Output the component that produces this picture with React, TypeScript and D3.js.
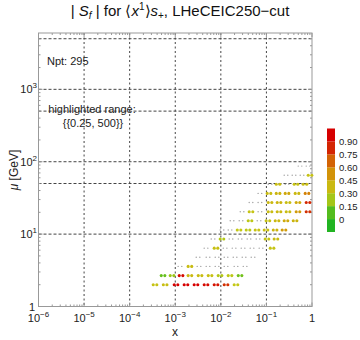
import React from "react";
import * as d3 from "d3";

// mu rows (GeV) of the pseudo-data grid, bottom to top
const rowMu = [2.0, 2.67, 3.58, 4.78, 6.4, 8.55, 11.4, 15.3, 20.4, 27.3, 36.5, 48.8, 65, 87];

// x values of the points in each row
const rowX: number[][] = [
  [3.6e-4, 6.0e-4, 1.04e-3, 1.72e-3, 2.85e-3, 4.73e-3, 7.84e-3, 0.013, 0.0215],
  [5.4e-4, 8.5e-4, 1.34e-3, 2.1e-3, 3.5e-3, 5.8e-3, 9.6e-3, 0.0159, 0.0264],
  [1.27e-3, 2.1e-3, 3.32e-3, 5.23e-3, 8.25e-3, 0.013, 0.0215, 0.034],
  [3.16e-3, 5.23e-3, 8.25e-3, 0.013, 0.0205, 0.0323, 0.0508],
  [4.73e-3, 7.84e-3, 0.0124, 0.0195, 0.0307, 0.0483, 0.0761, 0.133],
  [6.74e-3, 0.0106, 0.0167, 0.0264, 0.0415, 0.0654, 0.103, 0.162],
  [0.0106, 0.0159, 0.0251, 0.0395, 0.0622, 0.098, 0.155, 0.243],
  [0.0176, 0.0277, 0.0437, 0.0688, 0.108, 0.171, 0.269, 0.425],
  [0.0292, 0.0459, 0.072, 0.12, 0.189, 0.298, 0.493, 0.818],
  [0.0459, 0.072, 0.12, 0.189, 0.298, 0.493, 0.818],
  [0.072, 0.114, 0.18, 0.283, 0.469, 0.777],
  [0.12, 0.18, 0.283, 0.446, 0.7],
  [0.269, 0.403, 0.604, 0.905],
  [0.546, 0.818],
];

// |S_f| of each point, null = outside the highlighted range (grey)
const rowS: (number | null)[][] = [
  [0.33, 0.35, 0.92, 0.9, 0.92, 0.88, 0.86, 0.8, 0.3],
  [0.1, 0.2, 0.88, 0.38, 0.36, 0.34, 0.26, 0.28, 0.12],
  [null, 0.36, null, null, null, null, null, null],
  [null, null, null, null, null, null, null],
  [null, 0.34, null, null, null, null, null, 0.32],
  [null, 0.26, null, null, null, null, 0.32, 0.36],
  [null, null, 0.3, 0.28, 0.33, 0.35, 0.4, 0.5],
  [null, null, 0.28, null, 0.33, 0.38, 0.45, 0.4],
  [null, 0.32, null, 0.36, 0.38, 0.36, 0.5, 0.8],
  [null, null, 0.38, 0.4, 0.35, 0.45, 0.82],
  [null, 0.36, 0.4, 0.46, 0.38, 0.58],
  [null, 0.35, null, 0.33, 0.36],
  [null, null, null, 0.33],
  [null, null],
];

const xDecades = [-6, -5, -4, -3, -2, -1, 0];
const yDecades = [0, 1, 2, 3];
const xGrid = [1e-5, 1e-4, 1e-3, 1e-2, 1e-1];
const yGrid = [10, 50, 100, 500, 1000, 5000];
const barTicks = [0, 0.15, 0.3, 0.45, 0.6, 0.75, 0.9];
const barBands = [-0.15, 0, 0.15, 0.3, 0.45, 0.6, 0.75, 0.9];

const FONT = "'Liberation Sans', Arial, sans-serif";

const App: React.FC = () => {
  const left = 38.5, right = 312, top = 33, bottom = 306.5;
  const x = d3.scaleLog().domain([1e-6, 1]).range([left, right]);
  const y = d3.scaleLog().domain([1, 6000]).range([bottom, top]);

  const color = d3
    .scaleLinear<string>()
    .domain([0, 0.15, 0.3, 0.45, 0.6, 0.75, 0.9])
    .range(["#22b422", "#86c41a", "#c4c816", "#cfaa0c", "#d47c06", "#d24a04", "#d60000"])
    .clamp(true);

  const bar = d3.scaleLinear().domain([-0.15, 1.05]).range([232, 128.5]);

  const points = rowMu.flatMap((mu, i) =>
    rowX[i].map((xv, j) => ({ x: xv, mu, s: rowS[i][j] }))
  );

  const xMinor: number[] = [];
  xDecades.slice(0, -1).forEach((k) => {
    for (let m = 2; m <= 9; m++) xMinor.push(m * Math.pow(10, k));
  });
  const yMinor: number[] = [];
  yDecades.forEach((k) => {
    for (let m = 2; m <= 9; m++) {
      const v = m * Math.pow(10, k);
      if (v < 6000) yMinor.push(v);
    }
  });

  const frame = "#999";

  return (
    <svg width={360} height={340} style={{ position: "absolute", left: 0, top: 0 }} fontFamily={FONT}>
      <rect width={360} height={340} fill="#fff" />
      {/* title */}
      <text x={180} y={16} fontSize={15} textAnchor="middle" fill="#111">
        <tspan>| </tspan>
        <tspan fontStyle="italic">S</tspan>
        <tspan fontStyle="italic" fontSize={10} dy={3}>f</tspan>
        <tspan dy={-3}> | for ⟨</tspan>
        <tspan fontStyle="italic">x</tspan>
        <tspan fontSize={10} dy={-6}>1</tspan>
        <tspan dy={6}>⟩</tspan>
        <tspan fontStyle="italic">s</tspan>
        <tspan fontSize={10} dy={3}>+</tspan>
        <tspan dy={-3}>, LHeCEIC250−cut</tspan>
      </text>

      {/* grid */}
      {xGrid.map((g) => (
        <line key={"gx" + g} x1={x(g)} x2={x(g)} y1={top} y2={bottom} stroke="#444" strokeWidth={1} strokeDasharray="2,2.5" />
      ))}
      {yGrid.map((g) => (
        <line key={"gy" + g} x1={left} x2={right} y1={y(g)} y2={y(g)} stroke="#444" strokeWidth={1} strokeDasharray="3,2" />
      ))}

      {/* frame + ticks */}
      <rect x={left} y={top} width={right - left} height={bottom - top} fill="none" stroke={frame} strokeWidth={1} />
      {xDecades.map((k) => {
        const px = x(Math.pow(10, k));
        return (
          <g key={"xt" + k} stroke={frame}>
            <line x1={px} x2={px} y1={bottom} y2={bottom - 4} />
            <line x1={px} x2={px} y1={top} y2={top + 4} />
          </g>
        );
      })}
      {xMinor.map((v) => (
        <g key={"xm" + v} stroke={frame}>
          <line x1={x(v)} x2={x(v)} y1={bottom} y2={bottom - 2} />
          <line x1={x(v)} x2={x(v)} y1={top} y2={top + 2} />
        </g>
      ))}
      {yDecades.map((k) => {
        const py = y(Math.pow(10, k));
        return (
          <g key={"yt" + k} stroke={frame}>
            <line x1={left} x2={left + 4} y1={py} y2={py} />
            <line x1={right} x2={right - 4} y1={py} y2={py} />
          </g>
        );
      })}
      {yMinor.map((v) => (
        <g key={"ym" + v} stroke={frame}>
          <line x1={left} x2={left + 2} y1={y(v)} y2={y(v)} />
          <line x1={right} x2={right - 2} y1={y(v)} y2={y(v)} />
        </g>
      ))}

      {/* tick labels */}
      {xDecades.map((k) => (
        <text key={"xl" + k} x={x(Math.pow(10, k))} y={322} fontSize={11} textAnchor="middle" fill="#222">
          {k === 0 ? (
            "1"
          ) : (
            <>
              <tspan>10</tspan>
              <tspan fontSize={8} dy={-5}>{"−" + Math.abs(k)}</tspan>
            </>
          )}
        </text>
      ))}
      {yDecades.map((k) => (
        <text key={"yl" + k} x={k === 0 ? 35 : 37} y={y(Math.pow(10, k)) + 4} fontSize={11} textAnchor="end" fill="#222">
          {k === 0 ? (
            "1"
          ) : (
            <>
              <tspan>10</tspan>
              <tspan fontSize={8} dy={-5}>{k}</tspan>
            </>
          )}
        </text>
      ))}

      {/* axis titles */}
      <text x={175} y={336} fontSize={12} textAnchor="middle" fill="#222">x</text>
      <text transform="translate(18,170) rotate(-90)" fontSize={12} textAnchor="middle" fill="#222">
        <tspan fontStyle="italic">μ</tspan>
        <tspan> [GeV]</tspan>
      </text>

      {/* annotations */}
      <text x={47} y={65} fontSize={11} fill="#222">Npt: 295</text>
      <text x={92} y={113} fontSize={11} textAnchor="middle" fill="#222">highlighted range:</text>
      <text x={93} y={127} fontSize={11} textAnchor="middle" fill="#222">{"{{0.25, 500}}"}</text>

      {/* points */}
      {points.map((p, i) => {
        const cx = x(p.x), cy = y(p.mu);
        if (p.s === null) {
          return (
            <g key={"p" + i} fill="#a0a0a0">
              <circle cx={cx - 1.8} cy={cy} r={0.7} />
              <circle cx={cx + 1.8} cy={cy} r={0.7} />
            </g>
          );
        }
        return (
          <g key={"p" + i} fill={color(p.s)}>
            <circle cx={cx - 1.8} cy={cy} r={1.55} />
            <circle cx={cx + 1.8} cy={cy} r={1.55} />
          </g>
        );
      })}

      {/* colour bar */}
      {barBands.map((b) => (
        <rect key={"bb" + b} x={327} width={8} y={bar(b + 0.15)} height={bar(b) - bar(b + 0.15)} fill={color(b + 0.075)} />
      ))}
      {barTicks.map((t) => (
        <text key={"bt" + t} x={339} y={bar(t) + 3.5} fontSize={9.5} fill="#222">
          {t === 0 ? "0" : t.toFixed(2)}
        </text>
      ))}
    </svg>
  );
};

export default App;
